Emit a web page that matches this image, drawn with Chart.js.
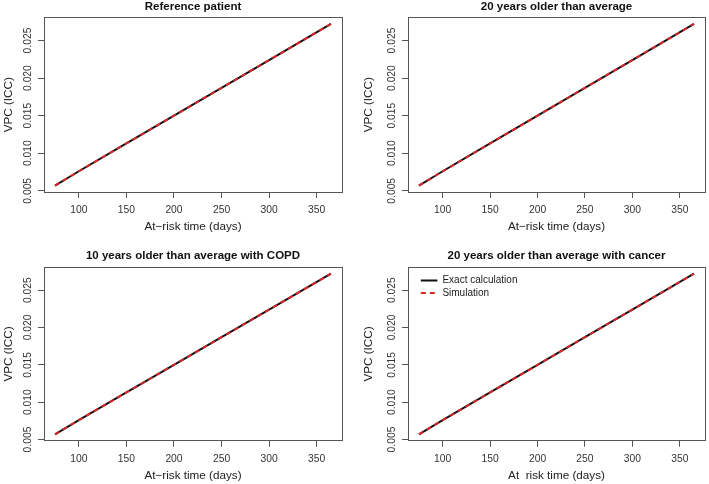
<!DOCTYPE html>
<html><head><meta charset="utf-8">
<script src="https://cdn.jsdelivr.net/npm/chart.js@4.4.1/dist/chart.umd.min.js"></script>
<style>
html,body{margin:0;padding:0;background:#fff;}
body{width:709px;height:484px;position:relative;overflow:hidden;}
canvas{position:absolute;}
</style></head><body>
<canvas id="c0" width="354" height="242" style="left:0px;top:0px"></canvas>
<canvas id="c1" width="354" height="242" style="left:355px;top:0px"></canvas>
<canvas id="c2" width="354" height="242" style="left:0px;top:242px"></canvas>
<canvas id="c3" width="354" height="242" style="left:355px;top:242px"></canvas>
<script>
// ---- data ----
const days = [75, 100, 150, 200, 250, 300, 365];
const refExact   = [0.0057, 0.0076, 0.0113, 0.0150, 0.0187, 0.0224, 0.0272];
const refSim     = [0.0057, 0.0076, 0.0113, 0.0150, 0.0187, 0.0224, 0.0272];
const old20Exact = [0.0057, 0.0076, 0.0113, 0.0150, 0.0187, 0.0224, 0.0272];
const old20Sim   = [0.0057, 0.0076, 0.0113, 0.0150, 0.0187, 0.0224, 0.0272];
const copdExact  = [0.0057, 0.0076, 0.0113, 0.0150, 0.0187, 0.0224, 0.0272];
const copdSim    = [0.0057, 0.0076, 0.0113, 0.0150, 0.0187, 0.0224, 0.0272];
const cancerExact= [0.0057, 0.0076, 0.0113, 0.0150, 0.0187, 0.0224, 0.0272];
const cancerSim  = [0.0057, 0.0076, 0.0113, 0.0150, 0.0187, 0.0224, 0.0272];
const xTicks = [100, 150, 200, 250, 300, 350];
const yTicks = [0.005, 0.010, 0.015, 0.020, 0.025];
const xLimits = [63.4, 376.6];
const yLimits = [0.00484, 0.02806];
const panelTitles = ['Reference patient', '20 years older than average',
  '10 years older than average with COPD', '20 years older than average with cancer'];
const xTitles = ['At\u2212risk time (days)', 'At\u2212risk time (days)',
  'At\u2212risk time (days)', 'At  risk time (days)'];
const yTitle = 'VPC (ICC)';
const seriesNames = ['Exact calculation', 'Simulation'];
const exactSeries = [refExact, old20Exact, copdExact, cancerExact];
const simSeries = [refSim, old20Sim, copdSim, cancerSim];

// ---- layout / style ----
Chart.defaults.font.family = "'Liberation Sans', Arial, Helvetica, sans-serif";
const panels = [
  {padL:0,   padR:12, yw:44,   xh:50,   tpt:1.3, tpb:4.7, xtb:8.3, legend:false},
  {padL:4.5, padR:4,  yw:48.5, xh:50,   tpt:1.3, tpb:4.7, xtb:8.3, legend:false},
  {padL:0,   padR:12, yw:44,   xh:43.3, tpt:7.8, tpb:6.0, xtb:1.7, legend:false},
  {padL:4.5, padR:4,  yw:48.5, xh:43.3, tpt:7.8, tpb:6.0, xtb:1.7, legend:true}
];
const AX = '#555';
const framePlugin = {
  id: 'frame',
  afterDraw(chart) {
    const {ctx, chartArea: a} = chart;
    const al = v => Math.round(v - 0.5) + 0.5;
    ctx.save();
    ctx.strokeStyle = AX; ctx.lineWidth = 1;
    ctx.strokeRect(al(a.left), al(a.top), al(a.right) - al(a.left), al(a.bottom) - al(a.top));
    ctx.restore();
  }
};
// places the in-plot legend at an inset from the plot area's top-left corner
const legendInset = {
  id: 'legendInset',
  afterLayout(chart, args, opts) {
    const lg = chart.legend;
    if (!lg || !opts || opts.dx === undefined) return;
    const a = chart.chartArea;
    lg.left = a.left + opts.dx; lg.right = lg.left + lg.width;
    lg.top = a.top + opts.dy; lg.bottom = lg.top + lg.height;
  }
};
const baseLabels = Chart.defaults.plugins.legend.labels.generateLabels;

panels.forEach((P, i) => {
  const ex = exactSeries[i], sm = simSeries[i];
  new Chart(document.getElementById('c' + i), {
    type: 'line',
    data: {
      datasets: [
        {label: seriesNames[0], data: days.map((d, j) => ({x: d, y: ex[j]})),
         borderColor: '#111', backgroundColor: '#111', borderWidth: 2,
         pointRadius: 0, tension: 0, fill: false, order: 1},
        {label: seriesNames[1], data: days.map((d, j) => ({x: d, y: sm[j]})),
         borderColor: '#D8262A', backgroundColor: '#D8262A', borderWidth: 2,
         borderDash: [5, 4], pointRadius: 0, tension: 0, fill: false, order: 0}
      ]
    },
    options: {
      responsive: false, animation: false, events: [],
      layout: {autoPadding: false, padding: {left: P.padL, right: P.padR, top: 0, bottom: 0}},
      plugins: {
        title: {display: true, text: panelTitles[i], color: '#111', fullSize: false,
          font: {size: 11.5, weight: 'bold', lineHeight: 1},
          padding: {top: P.tpt, bottom: P.tpb}},
        legend: {
          display: P.legend, position: 'chartArea', align: 'start',
          labels: {usePointStyle: true, pointStyle: 'line', pointStyleWidth: 16.6,
            padding: 2.5, color: '#222', font: {size: 10},
            sort: (a, b) => a.datasetIndex - b.datasetIndex,
            generateLabels: chart => baseLabels(chart).map(it => {
              const ds = chart.data.datasets[it.datasetIndex];
              it.lineDash = ds.borderDash || [];
              it.strokeStyle = ds.borderColor;
              it.lineWidth = ds.borderWidth;
              return it;
            })}
        },
        legendInset: P.legend ? {dx: 10.3, dy: 5.8} : {},
        tooltip: {enabled: false}
      },
      scales: {
        x: {
          type: 'linear', min: xLimits[0], max: xLimits[1], bounds: 'data',
          afterBuildTicks: s => { s.ticks = xTicks.map(v => ({value: v})); },
          afterFit: s => { s.height = P.xh; },
          ticks: {autoSkip: false, minRotation: 0, maxRotation: 0, padding: 5.8,
            color: '#333', font: {size: 10.3}, callback: v => String(v)},
          grid: {drawOnChartArea: false, drawTicks: true, tickLength: 6, color: AX, lineWidth: 1},
          border: {display: true, color: AX, width: 1},
          title: {display: true, text: xTitles[i], color: '#222', font: {size: 11.7},
            padding: {top: 0, bottom: P.xtb}}
        },
        y: {
          type: 'linear', min: yLimits[0], max: yLimits[1], bounds: 'data',
          afterBuildTicks: s => { s.ticks = yTicks.map(v => ({value: v})); },
          afterFit: s => { s.width = P.yw; },
          ticks: {autoSkip: false, minRotation: 90, maxRotation: 90, crossAlign: 'center',
            padding: -3.5, color: '#333', font: {size: 10.3}, callback: v => v.toFixed(3)},
          grid: {drawOnChartArea: false, drawTicks: true, tickLength: 6, color: AX, lineWidth: 1},
          border: {display: true, color: AX, width: 1},
          title: {display: true, text: yTitle, color: '#222', font: {size: 11.7},
            padding: {top: 2, bottom: 0}}
        }
      }
    },
    plugins: [framePlugin, legendInset]
  });
});
</script>
</body></html>
